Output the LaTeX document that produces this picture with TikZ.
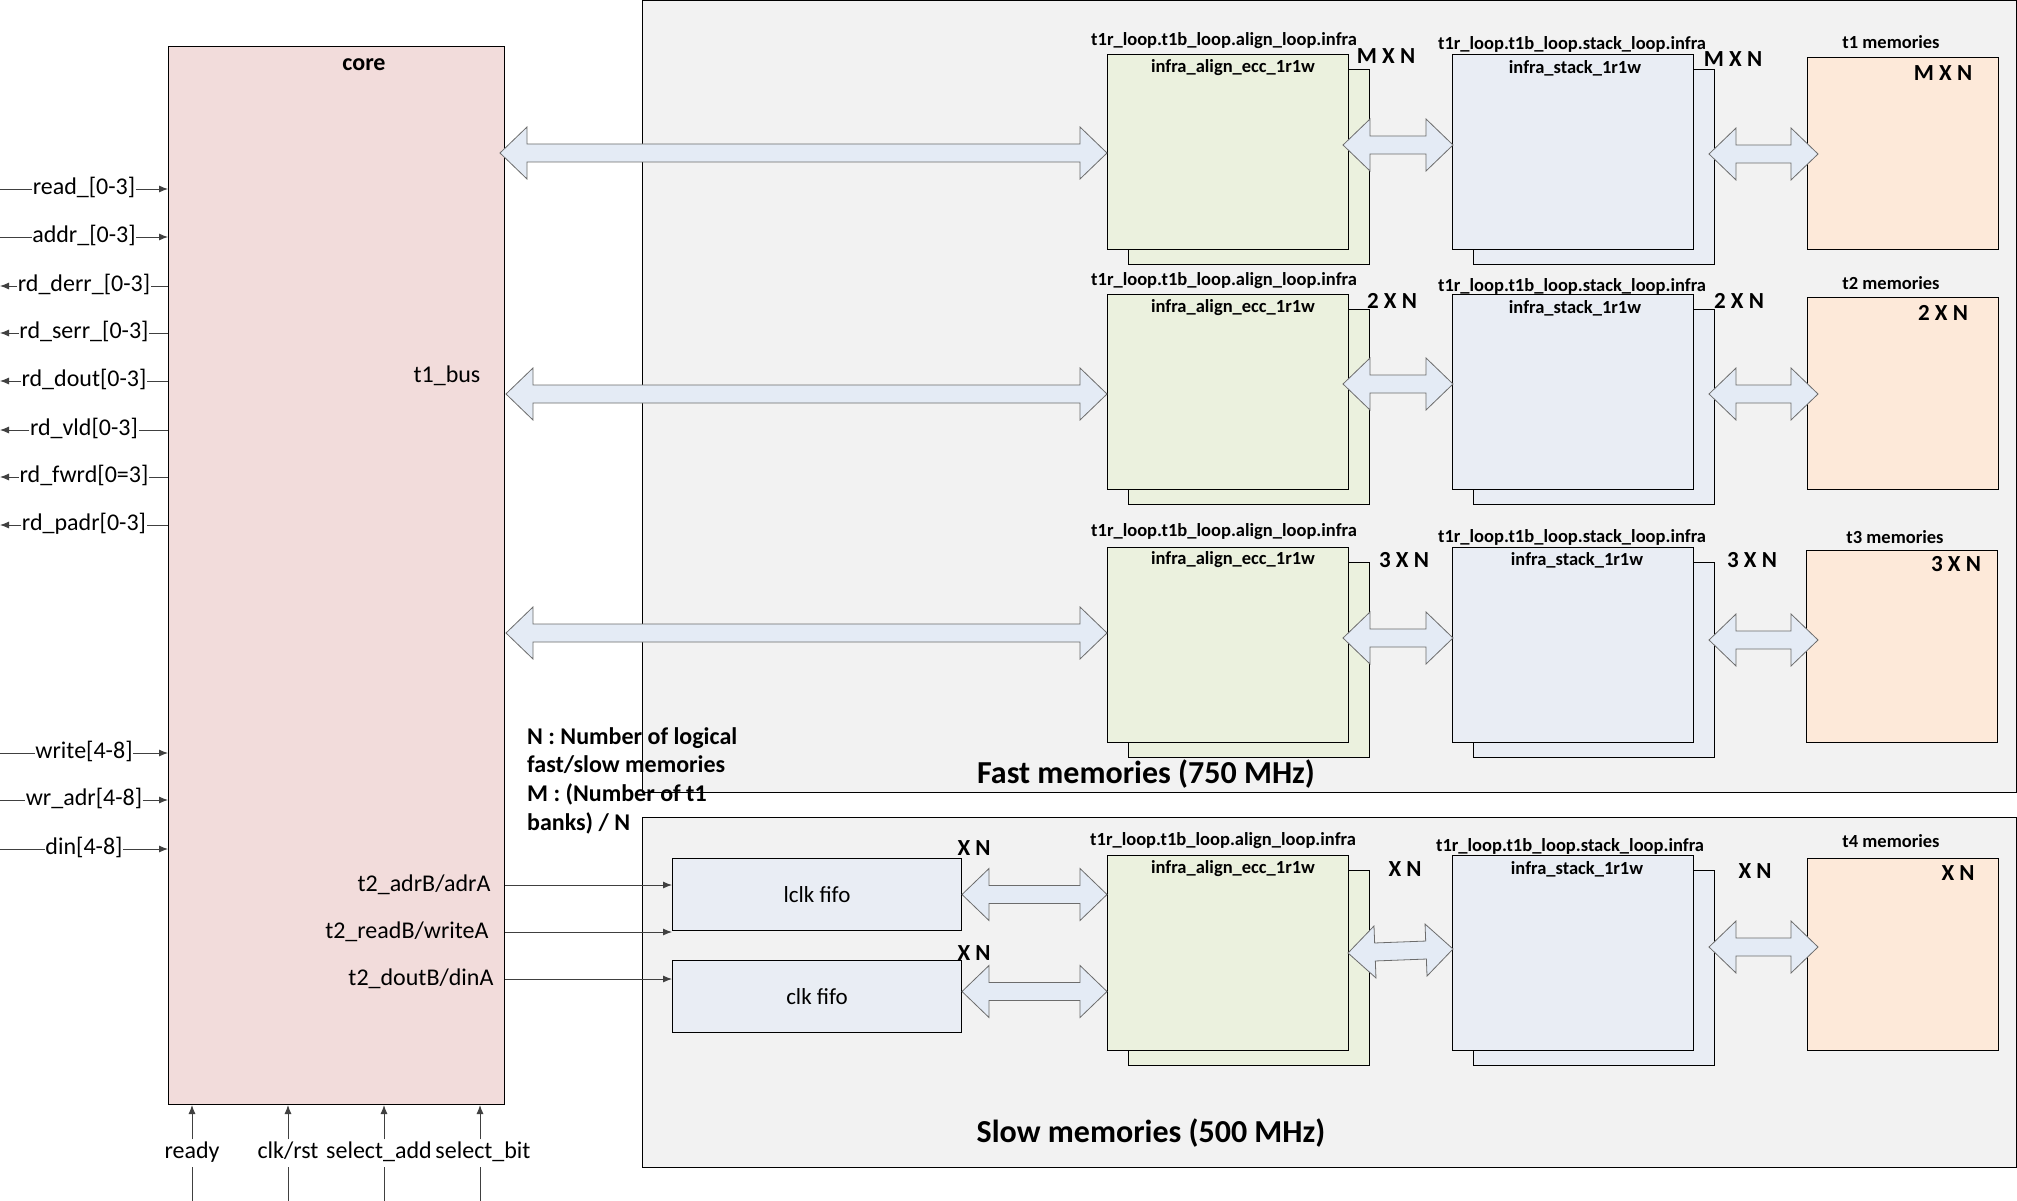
\documentclass[tikz,border=0pt]{standalone}
\usepackage{fontspec}
\setmainfont{Carlito}
\usetikzlibrary{calc,arrows.meta,positioning}

\definecolor{corefill}{HTML}{F2DCDB}
\definecolor{alignfill}{HTML}{EBF1DE}
\definecolor{stackfill}{HTML}{E9EDF4}
\definecolor{memfill}{HTML}{FDE9D9}
\definecolor{areafill}{HTML}{F2F2F2}
\definecolor{busfill}{HTML}{E4EBF5}
\definecolor{wiregray}{HTML}{404040}

\newcommand{\fsz}[1]{\fontsize{#1}{#1}\selectfont}

% wide two-headed bus arrow between two points
\newcommand{\busarrow}[2]{%
	\coordinate (ba-l) at (#1);
	\coordinate (ba-r) at (#2);
	\draw[bus] (ba-l)
		-- ($(ba-l)!27pt!(ba-r)!26pt!90:(ba-r)$)
		-- ($(ba-l)!27pt!(ba-r)!9pt!90:(ba-r)$)
		-- ($(ba-r)!27pt!(ba-l)!9pt!-90:(ba-l)$)
		-- ($(ba-r)!27pt!(ba-l)!26pt!-90:(ba-l)$)
		-- (ba-r)
		-- ($(ba-r)!27pt!(ba-l)!26pt!90:(ba-l)$)
		-- ($(ba-r)!27pt!(ba-l)!9pt!90:(ba-l)$)
		-- ($(ba-l)!27pt!(ba-r)!9pt!-90:(ba-r)$)
		-- ($(ba-l)!27pt!(ba-r)!26pt!-90:(ba-r)$)
		-- cycle;
}

\begin{document}
\begin{tikzpicture}[x=1pt,y=-1pt,
		every node/.style={font=\fsz{24}},
		blk/.style={draw,line width=1pt,anchor=north west,inner sep=0pt,
			minimum width=241pt,minimum height=195pt},
		alignblk/.style={blk,fill=alignfill},
		stackblk/.style={blk,fill=stackfill},
		memblk/.style={blk,fill=memfill,minimum width=191pt,minimum height=192pt},
		fifo/.style={blk,fill=stackfill,font=\fsz{23},
			minimum width=289pt,minimum height=72pt},
		area/.style={draw,line width=1pt,fill=areafill,anchor=north west,inner sep=0pt},
		hier/.style={font=\bfseries\fsz{18.5}},
		mult/.style={font=\bfseries\fsz{23}},
		sig/.style={inner xsep=0.5pt,inner ysep=2pt,text height=17pt,text depth=6pt},
		wire/.style={draw=wiregray,line width=0.9pt},
		sigarrow/.style={wire,-{Latex[length=9pt,width=7pt]}},
		bus/.style={draw=gray!85!black,line width=0.8pt,fill=busfill,line join=miter}]

	\useasboundingbox (0,0) rectangle (2017,1201);
	\node[anchor=north west,inner sep=0pt,outer sep=0pt,fill=white,
		minimum width=2017pt,minimum height=1201pt] (page) at (0,0) {};

	% clock domains
	\node[area,minimum width=1374pt,minimum height=792pt] (fast) at (642,0) {};
	\node[area,minimum width=1374pt,minimum height=350pt] (slow) at (642,817) {};
	\node[font=\bfseries\fsz{32}] (fastlbl) at (1146,774) {Fast memories (750 MHz)};
	\node[font=\bfseries\fsz{32}] (slowlbl) at (1151,1133) {Slow memories (500 MHz)};

	% core
	\node[draw,line width=1pt,fill=corefill,anchor=north west,inner sep=0pt,
		minimum width=336pt,minimum height=1058pt] (core) at (168,46) {};
	\node[font=\bfseries\fsz{24}] (corelbl) at (364,65) {core};
	\node (bus) at (447,376) {t1\_bus};

	\node[anchor=north west,align=left,inner sep=2pt,
		font=\bfseries\fontsize{24}{28.7}\selectfont] (note) at (525,725)
		{N : Number of logical\\fast/slow memories\\M : (Number of t1\\banks) / N};

	% core ports, left
	\node[sig] (rd) at (84,189) {read\_[0-3]};
	\node[sig] (adr) at (84,237) {addr\_[0-3]};
	\node[sig] (derr) at (84,286) {rd\_derr\_[0-3]};
	\node[sig] (serr) at (84,333) {rd\_serr\_[0-3]};
	\node[sig] (dout) at (84,381) {rd\_dout[0-3]};
	\node[sig] (vld) at (84,430) {rd\_vld[0-3]};
	\node[sig] (fwrd) at (84,477) {rd\_fwrd[0=3]};
	\node[sig] (padr) at (84,525) {rd\_padr[0-3]};
	\node[sig] (wr) at (84,753) {write[4-8]};
	\node[sig] (wradr) at (84,800) {wr\_adr[4-8]};
	\node[sig] (din) at (84,849) {din[4-8]};

	\draw[wire] (page.west |- rd) -- (rd.west);
	\draw[sigarrow] (rd.east) -- (core.west |- rd);
	\draw[wire] (page.west |- adr) -- (adr.west);
	\draw[sigarrow] (adr.east) -- (core.west |- adr);
	\draw[wire] (core.west |- derr) -- (derr.east);
	\draw[sigarrow] (derr.west) -- (page.west |- derr);
	\draw[wire] (core.west |- serr) -- (serr.east);
	\draw[sigarrow] (serr.west) -- (page.west |- serr);
	\draw[wire] (core.west |- dout) -- (dout.east);
	\draw[sigarrow] (dout.west) -- (page.west |- dout);
	\draw[wire] (core.west |- vld) -- (vld.east);
	\draw[sigarrow] (vld.west) -- (page.west |- vld);
	\draw[wire] (core.west |- fwrd) -- (fwrd.east);
	\draw[sigarrow] (fwrd.west) -- (page.west |- fwrd);
	\draw[wire] (core.west |- padr) -- (padr.east);
	\draw[sigarrow] (padr.west) -- (page.west |- padr);
	\draw[wire] (page.west |- wr) -- (wr.west);
	\draw[sigarrow] (wr.east) -- (core.west |- wr);
	\draw[wire] (page.west |- wradr) -- (wradr.west);
	\draw[sigarrow] (wradr.east) -- (core.west |- wradr);
	\draw[wire] (page.west |- din) -- (din.west);
	\draw[sigarrow] (din.east) -- (core.west |- din);

	% core ports, bottom
	\node[sig] (ready) at (192,1153) {ready};
	\node[sig] (clk) at (288,1153) {clk/rst};
	\node[sig,inner xsep=0pt] (seladd) at (379,1153) {select\_add};
	\node[sig,inner xsep=0pt] (selbit) at (483,1153) {select\_bit};

	\draw[wire] (ready |- page.south) -- (ready.south);
	\draw[sigarrow] (ready.north) -- (ready |- core.south);
	\draw[wire] (clk |- page.south) -- (clk.south);
	\draw[sigarrow] (clk.north) -- (clk |- core.south);
	\draw[wire] ([xshift=5pt]seladd |- page.south) -- ([xshift=5pt]seladd.south);
	\draw[sigarrow] ([xshift=5pt]seladd.north) -- ([xshift=5pt]seladd |- core.south);
	\draw[wire] ([xshift=-3pt]selbit |- page.south) -- ([xshift=-3pt]selbit.south);
	\draw[sigarrow] ([xshift=-3pt]selbit.north) -- ([xshift=-3pt]selbit |- core.south);

	% fast memories, row 1
	\node[alignblk] (al1b) at (1128,69) {};
	\node[alignblk] (al1) at (1107,54) {};
	\node[stackblk] (st1b) at (1473,69) {};
	\node[stackblk] (st1) at (1452,54) {};
	\node[memblk] (m1) at (1807,57) {};
	\node[hier] (al1p) at (1224,41) {t1r\_loop.t1b\_loop.align\_loop.infra};
	\node[hier] (al1n) at (1233,68) {infra\_align\_ecc\_1r1w};
	\node[hier] (st1p) at (1572,44) {t1r\_loop.t1b\_loop.stack\_loop.infra};
	\node[hier] (st1n) at (1575,68) {infra\_stack\_1r1w};
	\node[hier] (m1n) at (1891,42) {t1 memories};
	\node[mult] (al1x) at (1386,56) {M X N};
	\node[mult] (st1x) at (1733,59) {M X N};
	\node[mult] (m1x) at (1943,73) {M X N};

	% fast memories, row 2
	\node[alignblk] (al2b) at (1128,309) {};
	\node[alignblk] (al2) at (1107,294) {};
	\node[stackblk] (st2b) at (1473,309) {};
	\node[stackblk] (st2) at (1452,294) {};
	\node[memblk] (m2) at (1807,297) {};
	\node[hier] (al2p) at (1224,281) {t1r\_loop.t1b\_loop.align\_loop.infra};
	\node[hier] (al2n) at (1233,308) {infra\_align\_ecc\_1r1w};
	\node[hier] (st2p) at (1572,286) {t1r\_loop.t1b\_loop.stack\_loop.infra};
	\node[hier] (st2n) at (1575,308) {infra\_stack\_1r1w};
	\node[hier] (m2n) at (1891,283) {t2 memories};
	\node[mult] (al2x) at (1392,301) {2 X N};
	\node[mult] (st2x) at (1739,301) {2 X N};
	\node[mult] (m2x) at (1943,313) {2 X N};

	% fast memories, row 3
	\node[alignblk] (al3b) at (1128,562) {};
	\node[alignblk] (al3) at (1107,547) {};
	\node[stackblk] (st3b) at (1473,562) {};
	\node[stackblk] (st3) at (1452,547) {};
	\node[memblk] (m3) at (1806,550) {};
	\node[hier] (al3p) at (1224,532) {t1r\_loop.t1b\_loop.align\_loop.infra};
	\node[hier] (al3n) at (1233,560) {infra\_align\_ecc\_1r1w};
	\node[hier] (st3p) at (1572,537) {t1r\_loop.t1b\_loop.stack\_loop.infra};
	\node[hier] (st3n) at (1577,560) {infra\_stack\_1r1w};
	\node[hier] (m3n) at (1895,537) {t3 memories};
	\node[mult] (al3x) at (1404,560) {3 X N};
	\node[mult] (st3x) at (1752,560) {3 X N};
	\node[mult] (m3x) at (1956,564) {3 X N};

	% slow memories
	\node[fifo] (lclk) at (672,858) {lclk fifo};
	\node[fifo] (cfifo) at (672,960) {clk fifo};
	\node[mult] (lclkx) at (974,848) {X N};
	\node[mult] (cfifox) at (974,953) {X N};
	\node[alignblk] (al4b) at (1128,870) {};
	\node[alignblk] (al4) at (1107,855) {};
	\node[stackblk] (st4b) at (1473,870) {};
	\node[stackblk] (st4) at (1452,855) {};
	\node[memblk] (m4) at (1807,858) {};
	\node[hier] (al4p) at (1223,841) {t1r\_loop.t1b\_loop.align\_loop.infra};
	\node[hier] (al4n) at (1233,869) {infra\_align\_ecc\_1r1w};
	\node[hier] (st4p) at (1570,846) {t1r\_loop.t1b\_loop.stack\_loop.infra};
	\node[hier] (st4n) at (1577,869) {infra\_stack\_1r1w};
	\node[hier] (m4n) at (1891,841) {t4 memories};
	\node[mult] (al4x) at (1405,869) {X N};
	\node[mult] (st4x) at (1755,871) {X N};
	\node[mult] (m4x) at (1958,873) {X N};

	% t2 ports to the fifos
	\node[anchor=east] (t2adr) at (494,885) {t2\_adrB/adrA};
	\node[anchor=east] (t2rd) at (492,932) {t2\_readB/writeA};
	\node[anchor=east] (t2dout) at (497,979) {t2\_doutB/dinA};
	\draw[sigarrow] (core.east |- t2adr) -- (lclk.west |- t2adr);
	\draw[sigarrow] (core.east |- t2rd) -- (lclk.west |- t2rd);
	\draw[sigarrow] (core.east |- t2dout) -- (cfifo.west |- t2dout);

	% buses
	\busarrow{$(core.east |- al1.west)+(-5,1)$}{$(al1.west)+(0,1)$}
	\busarrow{$(al1.east)+(-6,-7)$}{$(st1.west)+(1,-7)$}
	\busarrow{$(st1.east)+(15,2)$}{$(st1.east -| m1.west)+(11,2)$}

	\busarrow{$(core.east |- al2.west)+(1,2)$}{$(al2.west)+(0,2)$}
	\busarrow{$(al2.east)+(-6,-8)$}{$(st2.west)+(1,-8)$}
	\busarrow{$(st2.east)+(15,2)$}{$(st2.east -| m2.west)+(11,2)$}

	\busarrow{$(core.east |- al3.west)+(1,-12)$}{$(al3.west)+(0,-12)$}
	\busarrow{$(al3.east)+(-6,-7)$}{$(st3.west)+(1,-7)$}
	\busarrow{$(st3.east)+(15,-5)$}{$(st3.east -| m3.west)+(12,-5)$}

	\busarrow{lclk.east}{lclk.east -| al4.west}
	\busarrow{$(cfifo.east)+(0,-5)$}{$(cfifo.east -| al4.west)+(0,-5)$}
	\busarrow{$(al4.east)+(-1,0)$}{$(st4.west)+(1,-4)$}
	\busarrow{$(st4.east)+(15,-6)$}{$(st4.east -| m4.west)+(11,-6)$}

\end{tikzpicture}
\end{document}
